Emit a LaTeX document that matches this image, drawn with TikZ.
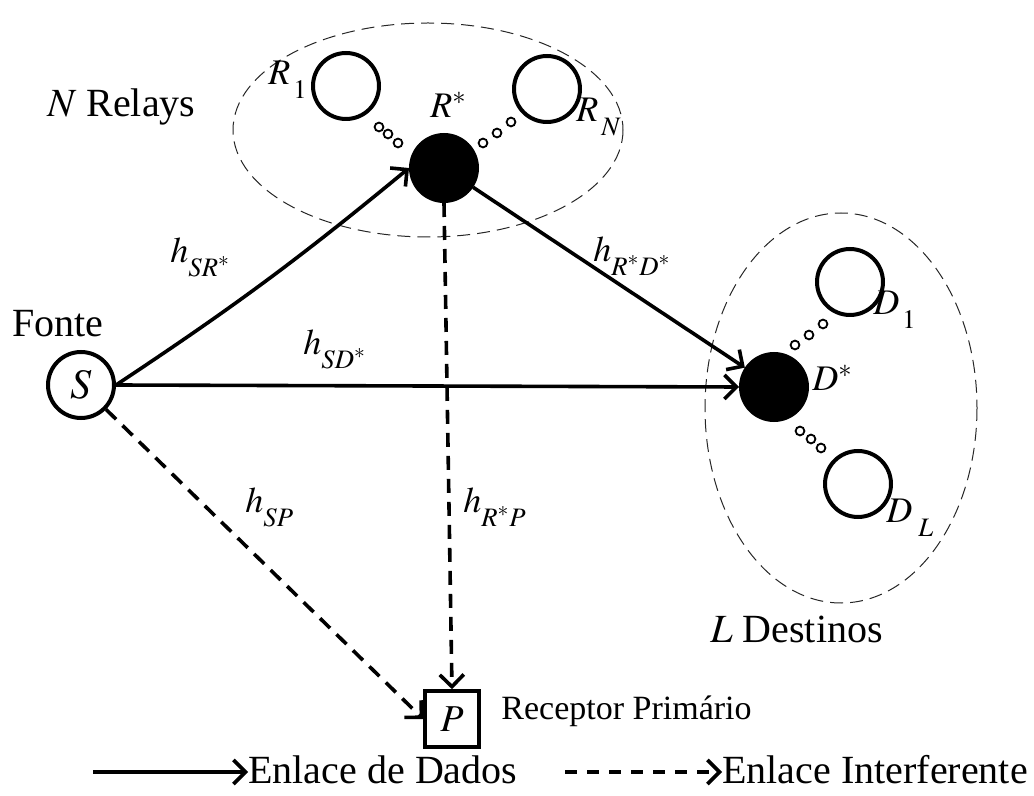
\documentclass[tikz,border=0pt]{standalone}
\usepackage{mathptmx}
\usepackage[no-math]{fontspec}
\setmainfont{Liberation Serif}
\usetikzlibrary{arrows.meta}
\newcommand{\dropsub}[2]{$#1_{\raisebox{-4pt}{$\scriptstyle #2$}}$}

\begin{document}
\begin{tikzpicture}[
    x=0.5pt, y=-0.5pt,
    user/.style={circle, draw, line width=2pt, minimum size=33pt, inner sep=0pt},
    best/.style={user, fill=black},
    ring/.style={circle, draw, line width=0.9pt, minimum size=4.4pt, inner sep=0pt},
    grp/.style={draw=black!85, line width=0.5pt, dash pattern=on 6.5pt off 3.5pt},
    prim/.style={rectangle, draw, line width=1.8pt, minimum width=27pt, minimum height=28pt, inner sep=0pt},
    dat/.style={-{Straight Barb[length=6pt, width=12pt, line width=1.8pt]}, line width=1.8pt},
    intf/.style={dat, dash pattern=on 7pt off 4.5pt},
    lbl/.style={anchor=base west, inner sep=0pt, font=\fontsize{18}{21}\selectfont},
    txt/.style={anchor=base west, inner sep=0pt, font=\fontsize{20}{24}\selectfont},
  ]
    \useasboundingbox (0,0) rectangle (1034,796);

    % groups
    \draw[grp] (428,130) ellipse [x radius=195, y radius=107];
    \draw[grp] (841,408) ellipse [x radius=136, y radius=195];

    % terminals
    \node[user] (S) at (81,385) {\fontsize{21}{24}\selectfont$S$};
    \node[user] (R1) at (346,86) {};
    \node[best] (Rs) at (444,168) {};
    \node[user] (RN) at (547,89) {};
    \node[user] (D1) at (850,282) {};
    \node[best] (Ds) at (774,387) {};
    \node[user] (DL) at (858,484) {};
    \node[prim] (P) at (452,719) {\fontsize{19}{22}\selectfont$P$};

    \foreach \p [count=\i] in {(379,127),(388,134),(398,143),(483,143),(497,133),(511,122),
        (823,324),(809,335),(795,345),(800,431),(811,439),(821,448)}
      \node[ring] (dot\i) at \p {};

    % names
    \node[lbl] (lR1) at (268,85) {\dropsub{R}{\,1}};
    \node[lbl] (lRs) at (430,118) {$R^*$};
    \node[lbl] (lRN) at (576,122) {\dropsub{R}{\,N}};
    \node[lbl] (lD1) at (873,315) {\dropsub{D}{\,1}};
    \node[lbl] (lDs) at (812,391) {$D^*$};
    \node[lbl] (lDL) at (886,523) {\dropsub{D}{\;L}};

    \node[txt] (fonte) at (12,337) {Fonte};
    \node[txt] (relays) at (47,117) {$N$ Relays};
    \node[txt] (dest) at (710,642) {$L$ Destinos};
    \node[anchor=base west, inner sep=0pt, font=\fontsize{17}{20}\selectfont] (rec) at (501,719) {Receptor Primário};

    % links
    \draw[dat] (S.east) to[bend right=3] (Rs.west);
    \draw[dat] (S.east) -- (Ds.west);
    \draw[dat] (Rs) -- (Ds);
    \draw[intf] (S) -- (P.west);
    \draw[intf] (Rs.south) -- (P.north);

    \node[lbl] (hsr) at (170,263) {\dropsub{h}{SR^*}};
    \node[lbl] (hsd) at (303,355) {\dropsub{h}{SD^*}};
    \node[lbl] (hrd) at (593,262) {\dropsub{h}{R^*D^*}};
    \node[lbl] (hsp) at (245,513) {\dropsub{h}{SP}};
    \node[lbl] (hrp) at (463,513) {\dropsub{h}{R^*P}};

    % legend
    \coordinate (ls) at (93,772);
    \node[txt] (ldat) at (248,783) {Enlace de Dados};
    \draw[dat] (ls) -- (ls -| ldat.west);
    \coordinate (li) at (565,772);
    \node[txt] (lint) at (722,783) {Enlace Interferente};
    \draw[intf, dash pattern=on 6pt off 5pt] (li) -- (li -| lint.west);
  \end{tikzpicture}
\end{document}
